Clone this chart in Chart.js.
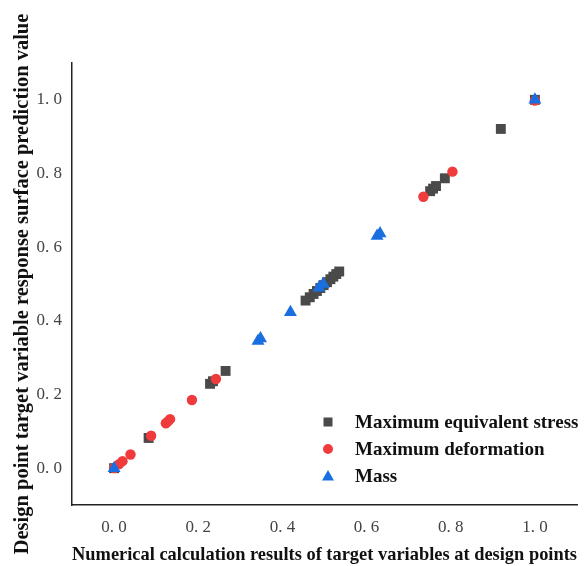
<!DOCTYPE html>
<html>
<head>
<meta charset="utf-8">
<script src="https://cdn.jsdelivr.net/npm/chart.js@4"></script>
<style>
  html, body { margin: 0; padding: 0; background: #fff; }
  #wrap { width: 587px; height: 566px; }
</style>
</head>
<body>
<div id="wrap"><canvas id="c"></canvas></div>
<script>
'use strict';

/* ── 데이터 ── */
const SERIES_NAMES = ['Maximum equivalent stress', 'Maximum deformation', 'Mass'];
const stressX = [0.0, 0.082, 0.228, 0.235, 0.265, 0.455, 0.465, 0.474, 0.482, 0.49, 0.498, 0.506, 0.514, 0.521, 0.528, 0.535, 0.751, 0.758, 0.765, 0.786, 0.919, 1.0];
const stressY = [0.0, 0.082, 0.229, 0.236, 0.264, 0.455, 0.464, 0.473, 0.481, 0.489, 0.497, 0.505, 0.513, 0.52, 0.527, 0.534, 0.752, 0.759, 0.766, 0.787, 0.921, 1.0];
const deformX = [0.0, 0.012, 0.02, 0.039, 0.088, 0.123, 0.128, 0.133, 0.185, 0.242, 0.735, 0.804, 1.0];
const deformY = [0.0, 0.011, 0.019, 0.037, 0.088, 0.122, 0.127, 0.133, 0.185, 0.242, 0.737, 0.805, 0.998];
const massX = [0.0, 0.342, 0.348, 0.419, 0.487, 0.497, 0.625, 0.632, 1.0];
const massY = [0.0, 0.345, 0.352, 0.423, 0.49, 0.5, 0.63, 0.637, 1.0];
const xTicks = [0.0, 0.2, 0.4, 0.6, 0.8, 1.0];
const yTicks = [0.0, 0.2, 0.4, 0.6, 0.8, 1.0];

const COLORS = ['#4a4a4a', '#ef3b3b', '#1a6fe0'];
const STYLES = ['rect', 'circle', 'triangle'];
const RADII = [7, 5.2, 7.5];

const zip = (xs, ys) => xs.map((x, i) => ({ x, y: ys[i] }));
const SERIF = '"Liberation Serif", "DejaVu Serif", serif';
const fmtTick = v => v.toFixed(1).replace('.', '. ');

/* ── 범례를 차트 영역 안쪽 오른쪽 아래에 그림 ── */
const innerLegend = {
  id: 'innerLegend',
  afterDatasetsDraw(chart) {
    const ctx = chart.ctx, area = chart.chartArea;
    const x0 = area.left + 256, y0 = area.top + 359, gap = 27;
    ctx.save();
    chart.data.datasets.forEach((ds, i) => {
      const y = y0 + i * gap;
      ctx.fillStyle = ds.backgroundColor;
      ctx.beginPath();
      if (ds.pointStyle === 'rect') ctx.rect(x0 - 4.5, y - 4.5, 9, 9);
      else if (ds.pointStyle === 'circle') ctx.arc(x0, y, 5, 0, Math.PI * 2);
      else { ctx.moveTo(x0, y - 6); ctx.lineTo(x0 + 6, y + 4.5); ctx.lineTo(x0 - 6, y + 4.5); ctx.closePath(); }
      ctx.fill();
      ctx.fillStyle = '#111';
      ctx.font = 'bold 19px ' + SERIF;
      ctx.textBaseline = 'middle';
      ctx.fillText(ds.label, x0 + 27, y + 1);
    });
    ctx.restore();
  }
};

const makeSet = (i, xs, ys, order) => ({
  label: SERIES_NAMES[i],
  data: zip(xs, ys),
  pointStyle: STYLES[i],
  pointRadius: RADII[i],
  pointHoverRadius: RADII[i],
  backgroundColor: COLORS[i],
  borderColor: COLORS[i],
  borderWidth: 0,
  order
});

new Chart(document.getElementById('c'), {
  type: 'scatter',
  data: {
    datasets: [
      makeSet(0, stressX, stressY, 2),
      makeSet(1, deformX, deformY, 1),
      makeSet(2, massX, massY, 0)
    ]
  },
  options: {
    responsive: true,
    maintainAspectRatio: false,
    animation: false,
    layout: { padding: { top: 63, right: 10, left: 0, bottom: 0 } },
    plugins: { legend: { display: false }, tooltip: { enabled: false } },
    scales: {
      x: {
        type: 'linear', min: -0.1, max: 1.1,
        afterBuildTicks: s => { s.ticks = xTicks.map(v => ({ value: v })); },
        afterFit: s => { s.height = 61; },
        grid: { display: false, drawTicks: false },
        border: { display: true, color: '#222', width: 1.5 },
        ticks: { padding: 12, color: '#444', font: { family: SERIF, size: 17 }, callback: fmtTick },
        title: { display: true, text: 'Numerical calculation results of target variables at design points', color: '#111', font: { family: SERIF, size: 19, weight: 'bold' }, padding: { top: 4, bottom: 0 } }
      },
      y: {
        type: 'linear', min: -0.1, max: 1.1,
        afterBuildTicks: s => { s.ticks = yTicks.map(v => ({ value: v })); },
        afterFit: s => { s.width = 72; },
        grid: { display: false, drawTicks: false },
        border: { display: true, color: '#222', width: 1.5 },
        ticks: { padding: 10, color: '#444', font: { family: SERIF, size: 17 }, callback: fmtTick },
        title: { display: true, text: 'Design point target variable response surface prediction value', color: '#111', font: { family: SERIF, size: 20.5, weight: 'bold' }, padding: { top: 10, bottom: 0 } }
      }
    }
  },
  plugins: [innerLegend]
});
</script>
</body>
</html>
